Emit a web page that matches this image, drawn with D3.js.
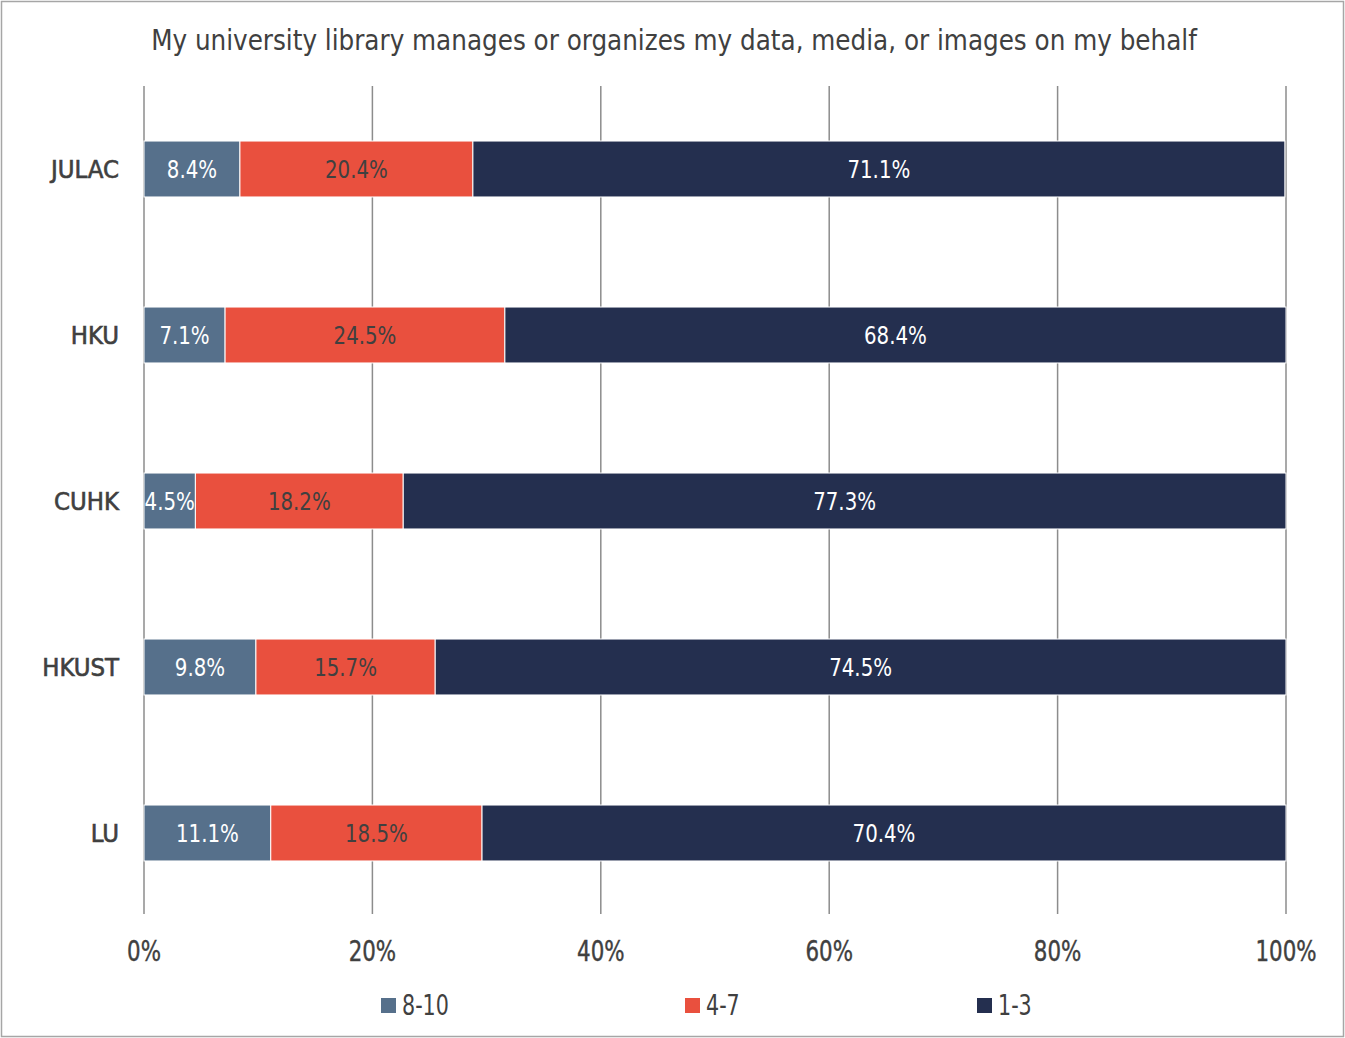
<!DOCTYPE html>
<head>
  <meta charset="UTF-8">
  <title>library chart</title>
  <style>
  body, html, svg{
    padding: 0;
    margin: 0;
  }
  body{
    background: #fff;
  }
  text{
    font-family: "Liberation Sans Narrow", "DejaVu Sans Condensed", "Roboto", sans-serif;
  }
  </style>
</head>
<body>
  <script src="https://cdn.jsdelivr.net/npm/d3@7"></script>
  <script type="text/javascript">
  var width = 1345;
  var height = 1038;

  // data
  var categories = ['JULAC', 'HKU', 'CUHK', 'HKUST', 'LU'];
  var seriesNames = ['8-10', '4-7', '1-3'];
  var high = [8.4, 7.1, 4.5, 9.8, 11.1];
  var mid = [20.4, 24.5, 18.2, 15.7, 18.5];
  var low = [71.1, 68.4, 77.3, 74.5, 70.4];
  var ticks = [0, 20, 40, 60, 80, 100];
  var colors = ['#56708b', '#e9503e', '#242f4f'];
  var labelColors = ['#ffffff', '#404040', '#ffffff'];

  var svg = d3.select('body')
    .append('svg')
    .attr('width', width)
    .attr('height', height);

  //外框
  svg.append('rect')
    .attr('x', 1.5).attr('y', 1.5)
    .attr('width', width - 3).attr('height', height - 3)
    .attr('fill', '#fff')
    .attr('stroke', '#a6a6a6')
    .attr('stroke-width', 1.5);

  svg.append('text')
    .attr('transform', 'translate(674,50) scale(0.963,1)')
    .attr('text-anchor', 'middle')
    .attr('font-size', 28.5)
    .attr('fill', '#404040')
    .text('My university library manages or organizes my data, media, or images on my behalf');

  var x = d3.scaleLinear().domain([0, 100]).range([144, 1286]);
  var y = d3.scaleBand().domain(categories).range([86, 916]).paddingInner(0.663).paddingOuter(0.3315);

  //网格
  svg.append('g')
    .selectAll('line')
    .data(ticks)
    .enter()
    .append('line')
    .attr('x1', d => x(d)).attr('x2', d => x(d))
    .attr('y1', 86).attr('y2', 914)
    .attr('stroke', '#8c8c8c')
    .attr('stroke-width', 1.5);

  svg.append('g')
    .selectAll('text')
    .data(ticks)
    .enter()
    .append('text')
    .attr('transform', d => 'translate(' + x(d) + ',961) scale(0.82,1)')
    .attr('text-anchor', 'middle')
    .attr('font-size', 29)
    .attr('fill', '#404040')
    .attr('stroke', '#404040')
    .attr('stroke-width', 0.4)
    .text(d => d + '%');

  svg.append('g')
    .selectAll('text')
    .data(categories)
    .enter()
    .append('text')
    .attr('transform', d => 'translate(119,' + (y(d) + y.bandwidth() / 2 + 9) + ') scale(1.06,1)')
    .attr('text-anchor', 'end')
    .attr('font-size', 24)
    .attr('fill', '#404040')
    .attr('stroke', '#404040')
    .attr('stroke-width', 0.6)
    .text(d => d);

  var rows = categories.map((c, i) => ({cat: c, '8-10': high[i], '4-7': mid[i], '1-3': low[i]}));
  var stacked = d3.stack().keys(seriesNames)(rows);

  var layers = svg.append('g')
    .selectAll('g')
    .data(stacked)
    .enter()
    .append('g');

  layers.selectAll('rect')
    .data(d => d)
    .enter()
    .append('rect')
    .attr('x', d => x(d[0]))
    .attr('y', d => y(d.data.cat))
    .attr('width', d => x(Math.min(d[1], 100)) - x(d[0]))
    .attr('height', y.bandwidth())
    .attr('fill', function(){ return colors[d3.select(this.parentNode).datum().index]; })
    .attr('stroke', '#fff')
    .attr('stroke-width', 1);

  layers.selectAll('text')
    .data(d => d.map(v => ({v: v, i: d.index, key: d.key})))
    .enter()
    .append('text')
    .attr('transform', d => 'translate(' + ((x(d.v[0]) + x(Math.min(d.v[1], 100))) / 2) + ',' + (y(d.v.data.cat) + y.bandwidth() / 2 + 9) + ') scale(0.88,1)')
    .attr('text-anchor', 'middle')
    .attr('font-size', 25)
    .attr('font-weight', 300)
    .attr('fill', d => labelColors[d.i])
    .text(d => d.v.data[d.key].toFixed(1) + '%');

  //图例
  var legendX = [381, 685, 977];
  var legend = svg.append('g')
    .selectAll('g')
    .data(seriesNames)
    .enter()
    .append('g')
    .attr('transform', (d, i) => 'translate(' + legendX[i] + ',998)');
  legend.append('rect')
    .attr('width', 15).attr('height', 15)
    .attr('fill', (d, i) => colors[i]);
  legend.append('text')
    .attr('transform', 'translate(21,17) scale(0.82,1)')
    .attr('font-size', 28)
    .attr('font-weight', 300)
    .attr('fill', '#404040')
    .text(d => d);
  </script>
</body>
</html>
